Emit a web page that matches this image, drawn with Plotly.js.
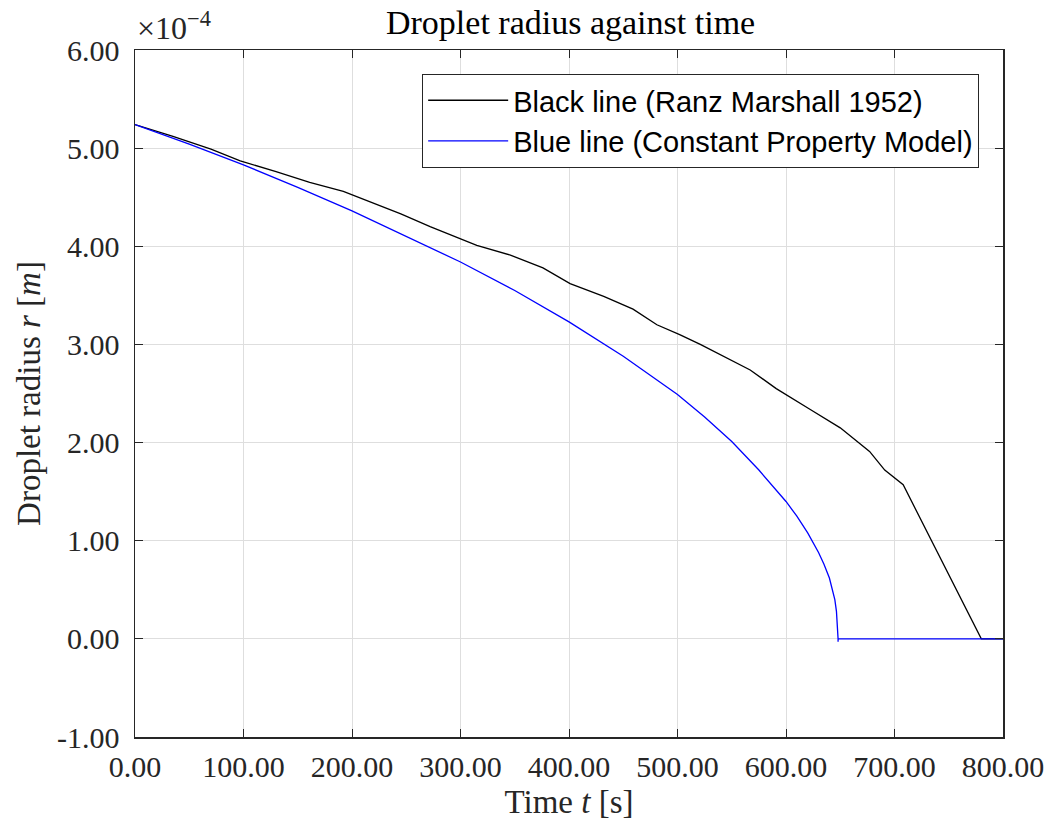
<!DOCTYPE html>
<html>
<head>
<meta charset="utf-8">
<script src="https://cdn.plot.ly/plotly-3.0.1.min.js"></script>
<style>
  html, body { margin: 0; padding: 0; background: #fff; }
  #chart { width: 1058px; height: 830px; }
</style>
</head>
<body>
<div id="chart"></div>
<script>
// Time [s] and droplet radius in units of 1e-4 m
const blackTime   = [0, 35, 70, 97, 130, 161, 192, 215, 245, 272, 290, 315, 346, 376, 401, 432, 459, 481, 502, 521, 567, 591, 622, 650, 677, 691, 708, 780, 800];
const blackRadius = [5.24, 5.12, 4.99, 4.87, 4.76, 4.65, 4.56, 4.46, 4.33, 4.20, 4.12, 4.01, 3.91, 3.78, 3.62, 3.49, 3.36, 3.20, 3.10, 3.00, 2.74, 2.55, 2.34, 2.15, 1.91, 1.72, 1.57, 0.00, 0.00];

const blueTime   = [0, 50, 100, 150, 200, 250, 300, 350, 400, 450, 500, 525, 550, 575, 600, 610, 620, 630, 635, 640, 643, 645, 646.5, 647.5, 648, 648, 648, 800];
const blueRadius = [5.24, 5.04, 4.83, 4.60, 4.36, 4.10, 3.84, 3.55, 3.23, 2.88, 2.49, 2.26, 2.01, 1.72, 1.40, 1.25, 1.08, 0.88, 0.76, 0.62, 0.50, 0.40, 0.28, 0.14, 0.00, -0.03, 0.00, 0.00];

const seriesNames = ['Black line (Ranz Marshall 1952)', 'Blue line (Constant Property Model)'];
const titleText = 'Droplet radius against time';
const xTitle = 'Time <i>t</i> [s]';
const yTitle = 'Droplet radius <i>r</i> [<i>m</i>]';
const xTicks = [0, 100, 200, 300, 400, 500, 600, 700, 800];
const yTicks = [-1, 0, 1, 2, 3, 4, 5, 6];
const xTickText = xTicks.map(v => v.toFixed(2));
const yTickText = yTicks.map(v => v.toFixed(2));

const serif = '"Liberation Serif", "DejaVu Serif", serif';
const axisColor = '#262626';

const traces = [
  { x: blackTime, y: blackRadius, type: 'scatter', mode: 'lines', name: seriesNames[0],
    line: { color: '#000000', width: 1.3 } },
  { x: blueTime, y: blueRadius, type: 'scatter', mode: 'lines', name: seriesNames[1],
    line: { color: '#0000ff', width: 1.3 } }
];

const axisCommon = {
  showline: true, linecolor: axisColor, linewidth: 1.5, mirror: 'ticks',
  ticks: 'inside', ticklen: 8, tickwidth: 1, tickcolor: axisColor,
  showgrid: true, gridcolor: '#dedede', gridwidth: 1, zeroline: false,
  tickfont: { family: serif, size: 30, color: axisColor },
  tickmode: 'array'
};

const layout = {
  width: 1058, height: 830,
  paper_bgcolor: '#ffffff', plot_bgcolor: '#ffffff',
  margin: { l: 135, r: 55, t: 50, b: 93 },
  title: { text: titleText, font: { family: serif, size: 34, color: '#000' },
           x: 0.5393, xanchor: 'center', y: 0.973, yanchor: 'middle' },
  xaxis: Object.assign({}, axisCommon, {
    range: [0, 800], tickvals: xTicks, ticktext: xTickText, ticklabelstandoff: 2,
    title: { text: xTitle, font: { family: serif, size: 33, color: axisColor }, standoff: 8 }
  }),
  yaxis: Object.assign({}, axisCommon, {
    range: [-1, 6], tickvals: yTicks, ticktext: yTickText, ticklabelstandoff: 8,
    title: { text: yTitle, font: { family: serif, size: 33, color: axisColor }, standoff: 6 }
  }),
  showlegend: true,
  legend: {
    x: 0.3306, y: 0.9655, xanchor: 'left', yanchor: 'top',
    bgcolor: '#ffffff', bordercolor: axisColor, borderwidth: 1.2,
    font: { family: '"Liberation Sans", Arial, sans-serif', size: 29, color: '#000' },
    tracegroupgap: 0, itemwidth: 80
  },
  annotations: [{
    xref: 'paper', yref: 'paper', x: 0, y: 1, xanchor: 'left', yanchor: 'bottom',
    yshift: 2, xshift: 0,
    text: '×10<sup>−4</sup>', showarrow: false,
    font: { family: serif, size: 32, color: axisColor }
  }]
};

Plotly.newPlot('chart', traces, layout, { staticPlot: true, displayModeBar: false });
</script>
</body>
</html>
